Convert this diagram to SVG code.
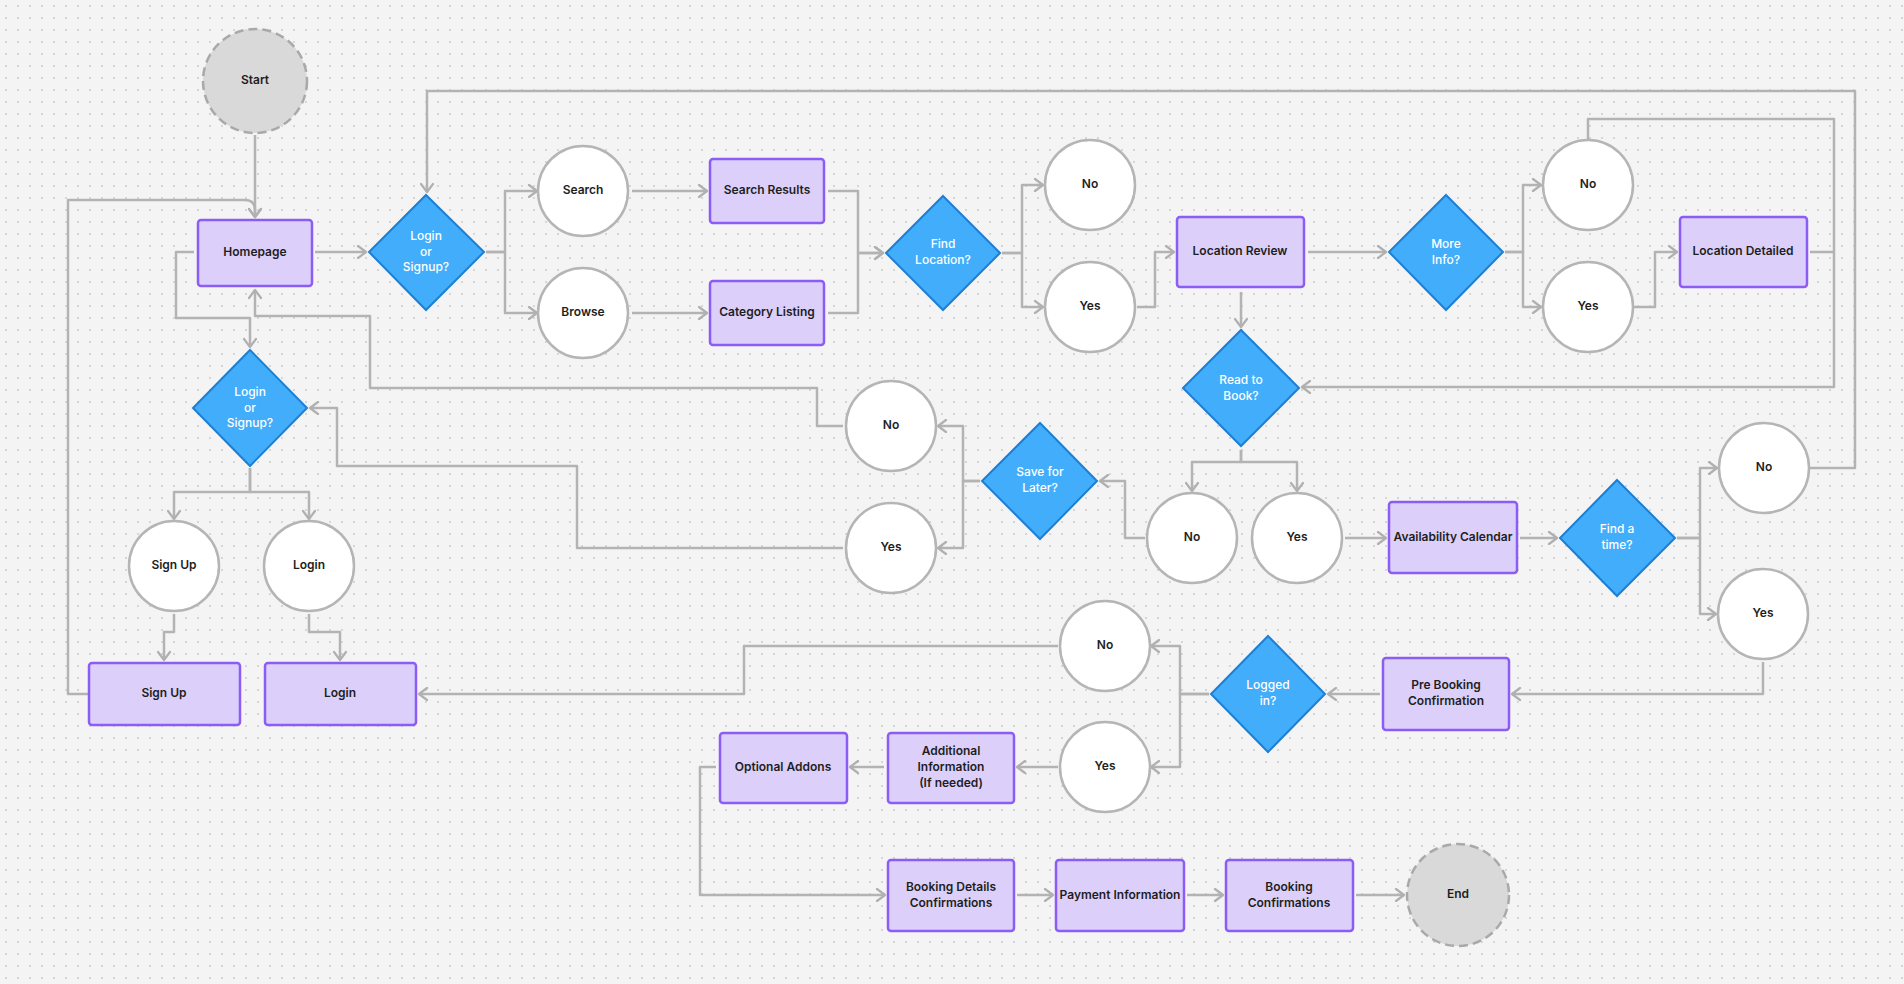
<svg xmlns="http://www.w3.org/2000/svg" width="1904" height="984" viewBox="0 0 1904 984">
<defs>
<pattern id="dots" width="12" height="12" patternUnits="userSpaceOnUse"><circle cx="6" cy="6" r="0.9" fill="#c8c8c8"/></pattern>
<marker id="ar" markerWidth="12" markerHeight="14" refX="10" refY="7" orient="auto" markerUnits="userSpaceOnUse"><path d="M2,1 L10,7 L2,13" fill="none" stroke="#b0b0b0" stroke-width="2.2" stroke-linejoin="round" stroke-linecap="round"/></marker>
</defs>
<style>
.c{fill:none;stroke:#b3b3b3;stroke-width:2.5;stroke-linejoin:round}
.a{marker-end:url(#ar)}
.r{fill:#dcd0fb;stroke:#8b5cf6;stroke-width:2.5}
.d{fill:#42adfa;stroke:#1d7fd4;stroke-width:2}
.o{fill:#fff;stroke:#b5b5b5;stroke-width:2.5}
.t{fill:#d9d9d9;stroke:#a9a9a9;stroke-width:2.5;stroke-dasharray:9 5}
text{font-family:Inter,"Liberation Sans",sans-serif;font-size:12px;font-weight:600;fill:#1e1e1e;text-anchor:middle;dominant-baseline:middle}
.w{fill:#fff;font-weight:500}
</style>
<rect width="1904" height="984" fill="#f4f4f4"/>
<rect width="1904" height="984" fill="url(#dots)"/>
<g id="connectors">
<path class="c a" d="M255,135 V217"/>
<path class="c a" d="M89,694 H68 V200 H245 Q255,200 255,210 V217"/>
<path class="c a" d="M315,252 H366"/>
<path class="c a" d="M486,252 H505 V191 H537"/>
<path class="c a" d="M486,252 H505 V313 H537"/>
<path class="c a" d="M632,191 H707"/>
<path class="c a" d="M632,313 H707"/>
<path class="c a" d="M828,191 H858 V253 H883"/>
<path class="c a" d="M828,313 H858 V253 H883"/>
<path class="c a" d="M1002,253 H1022 V185 H1043"/>
<path class="c a" d="M1002,253 H1022 V307 H1043"/>
<path class="c a" d="M1137,307 H1155 V252 H1174"/>
<path class="c a" d="M1308,252 H1386"/>
<path class="c a" d="M1241,292 V327"/>
<path class="c a" d="M1505,252 H1523 V185 H1541"/>
<path class="c a" d="M1505,252 H1523 V307 H1541"/>
<path class="c a" d="M1634,307 H1655 V252 H1677"/>
<path class="c a" d="M1588,140 V119 H1834 V387 H1302"/>
<path class="c" d="M1810,252 H1834"/>
<path class="c a" d="M1810,468 H1855 V91 H427 V192"/>
<path class="c a" d="M1241,450 V462 H1192 V491"/>
<path class="c a" d="M1241,450 V462 H1297 V491"/>
<path class="c a" d="M1145,538 H1125 V481 H1100"/>
<path class="c a" d="M980,481 H963 V426 H938"/>
<path class="c a" d="M980,481 H963 V548 H938"/>
<path class="c a" d="M843,426 H817 V388 H370 V316 H255 V290"/>
<path class="c a" d="M843,548 H577 V466 H337 V408 H310"/>
<path class="c a" d="M194,252 H176 V318 H250 V347"/>
<path class="c a" d="M250,468 V492 H174 V519"/>
<path class="c a" d="M250,468 V492 H309 V519"/>
<path class="c a" d="M174,614 V632 H164 V660"/>
<path class="c a" d="M309,614 V632 H340 V660"/>
<path class="c a" d="M1345,538 H1386"/>
<path class="c a" d="M1520,538 H1557"/>
<path class="c a" d="M1677,538 H1700 V468 H1717"/>
<path class="c a" d="M1677,538 H1700 V614 H1716"/>
<path class="c a" d="M1763,662 V694 H1512"/>
<path class="c a" d="M1380,694 H1328"/>
<path class="c a" d="M1209,694 H1180 V646 H1151"/>
<path class="c a" d="M1209,694 H1180 V767 H1151"/>
<path class="c a" d="M1058,646 H744 V694 H419"/>
<path class="c a" d="M1058,767 H1017"/>
<path class="c a" d="M884,767 H850"/>
<path class="c a" d="M716,767 H700 V895 H885"/>
<path class="c a" d="M1017,895 H1053"/>
<path class="c a" d="M1187,895 H1223"/>
<path class="c a" d="M1356,895 H1404"/>
</g>
<g id="start"><circle class="t" cx="255" cy="81" r="52"/><text x="255" y="81">Start</text></g>
<g id="homepage"><rect class="r" x="198" y="220" width="114" height="66" rx="3"/><text x="255" y="253">Homepage</text></g>
<g id="login-signup-1"><polygon class="d" points="426,195 484,252 426,310 369,252"/><text class="w" x="426" y="237">Login</text><text class="w" x="426" y="253">or</text><text class="w" x="426" y="268">Signup?</text></g>
<g id="search"><circle class="o" cx="583" cy="191" r="45"/><text x="583" y="191">Search</text></g>
<g id="browse"><circle class="o" cx="583" cy="313" r="45"/><text x="583" y="313">Browse</text></g>
<g id="search-results"><rect class="r" x="710" y="159" width="114" height="64" rx="3"/><text x="767" y="191">Search Results</text></g>
<g id="category-listing"><rect class="r" x="710" y="281" width="114" height="64" rx="3"/><text x="767" y="313">Category Listing</text></g>
<g id="find-location"><polygon class="d" points="943,196 1000,253 943,310 886,253"/><text class="w" x="943" y="245">Find</text><text class="w" x="943" y="261">Location?</text></g>
<g id="no-1"><circle class="o" cx="1090" cy="185" r="45"/><text x="1090" y="185">No</text></g>
<g id="yes-1"><circle class="o" cx="1090" cy="307" r="45"/><text x="1090" y="307">Yes</text></g>
<g id="location-review"><rect class="r" x="1177" y="217" width="127" height="70" rx="3"/><text x="1240" y="252">Location Review</text></g>
<g id="more-info"><polygon class="d" points="1446,195 1503,252 1446,310 1389,252"/><text class="w" x="1446" y="245">More</text><text class="w" x="1446" y="261">Info?</text></g>
<g id="no-2"><circle class="o" cx="1588" cy="185" r="45"/><text x="1588" y="185">No</text></g>
<g id="yes-2"><circle class="o" cx="1588" cy="307" r="45"/><text x="1588" y="307">Yes</text></g>
<g id="location-detailed"><rect class="r" x="1680" y="217" width="127" height="70" rx="3"/><text x="1743" y="252">Location Detailed</text></g>
<g id="ready-to-book"><polygon class="d" points="1241,330 1299,388 1241,446 1183,388"/><text class="w" x="1241" y="381">Read to</text><text class="w" x="1241" y="397">Book?</text></g>
<g id="no-3"><circle class="o" cx="1192" cy="538" r="45"/><text x="1192" y="538">No</text></g>
<g id="yes-3"><circle class="o" cx="1297" cy="538" r="45"/><text x="1297" y="538">Yes</text></g>
<g id="save-for-later"><polygon class="d" points="1040,423 1097,481 1040,539 982,481"/><text class="w" x="1040" y="473">Save for</text><text class="w" x="1040" y="489">Later?</text></g>
<g id="no-4"><circle class="o" cx="891" cy="426" r="45"/><text x="891" y="426">No</text></g>
<g id="yes-4"><circle class="o" cx="891" cy="548" r="45"/><text x="891" y="548">Yes</text></g>
<g id="login-signup-2"><polygon class="d" points="250,350 307,408 250,466 193,408"/><text class="w" x="250" y="393">Login</text><text class="w" x="250" y="409">or</text><text class="w" x="250" y="424">Signup?</text></g>
<g id="signup-circle"><circle class="o" cx="174" cy="566" r="45"/><text x="174" y="566">Sign Up</text></g>
<g id="login-circle"><circle class="o" cx="309" cy="566" r="45"/><text x="309" y="566">Login</text></g>
<g id="signup-rect"><rect class="r" x="89" y="663" width="151" height="62" rx="3"/><text x="164" y="694">Sign Up</text></g>
<g id="login-rect"><rect class="r" x="265" y="663" width="151" height="62" rx="3"/><text x="340" y="694">Login</text></g>
<g id="availability-calendar"><rect class="r" x="1389" y="502" width="128" height="71" rx="3"/><text x="1453" y="538">Availability Calendar</text></g>
<g id="find-a-time"><polygon class="d" points="1617,480 1675,538 1617,596 1560,538"/><text class="w" x="1617" y="530">Find a</text><text class="w" x="1617" y="546">time?</text></g>
<g id="no-5"><circle class="o" cx="1764" cy="468" r="45"/><text x="1764" y="468">No</text></g>
<g id="yes-5"><circle class="o" cx="1763" cy="614" r="45"/><text x="1763" y="614">Yes</text></g>
<g id="pre-booking"><rect class="r" x="1383" y="658" width="126" height="72" rx="3"/><text x="1446" y="686">Pre Booking</text><text x="1446" y="702">Confirmation</text></g>
<g id="logged-in"><polygon class="d" points="1268,636 1325,694 1268,752 1211,694"/><text class="w" x="1268" y="686">Logged</text><text class="w" x="1268" y="702">in?</text></g>
<g id="no-6"><circle class="o" cx="1105" cy="646" r="45"/><text x="1105" y="646">No</text></g>
<g id="yes-6"><circle class="o" cx="1105" cy="767" r="45"/><text x="1105" y="767">Yes</text></g>
<g id="additional-info"><rect class="r" x="888" y="733" width="126" height="70" rx="3"/><text x="951" y="752">Additional</text><text x="951" y="768">Information</text><text x="951" y="784">(If needed)</text></g>
<g id="optional-addons"><rect class="r" x="720" y="733" width="127" height="70" rx="3"/><text x="783" y="768">Optional Addons</text></g>
<g id="booking-details"><rect class="r" x="888" y="860" width="126" height="71" rx="3"/><text x="951" y="888">Booking Details</text><text x="951" y="904">Confirmations</text></g>
<g id="payment-information"><rect class="r" x="1056" y="860" width="128" height="71" rx="3"/><text x="1120" y="896">Payment Information</text></g>
<g id="booking-confirmations"><rect class="r" x="1226" y="860" width="127" height="71" rx="3"/><text x="1289" y="888">Booking</text><text x="1289" y="904">Confirmations</text></g>
<g id="end"><circle class="t" cx="1458" cy="895" r="51"/><text x="1458" y="895">End</text></g>
</svg>
